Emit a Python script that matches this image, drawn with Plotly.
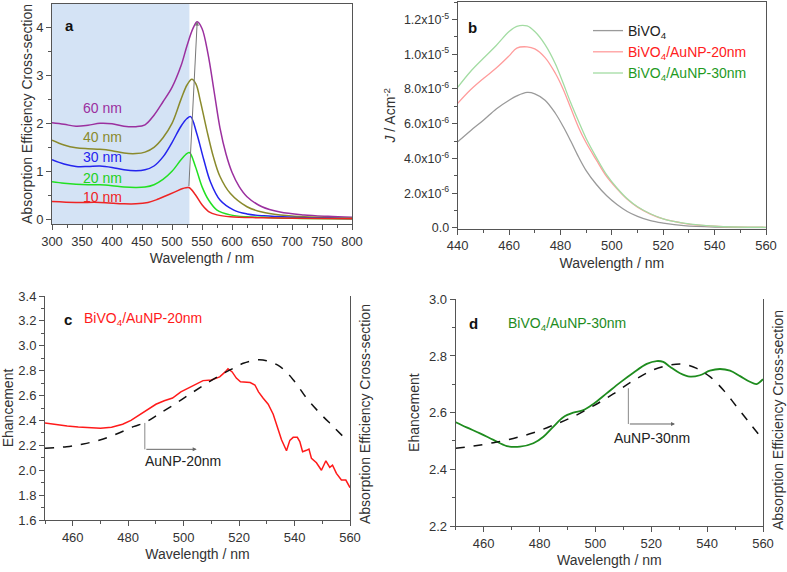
import plotly.graph_objects as go

# =============================================================================
# DATOS
# =============================================================================

# --- (a) absorption efficiency cross-section of AuNP ---
wl_60 = [300, 320, 340, 360, 380, 400, 420, 440, 455, 470, 485, 500, 515, 525, 535, 542, 550, 560,
         570, 580, 590, 600, 612, 625, 650, 680, 720, 760, 800]
ab_60 = [2.01, 1.98, 1.94, 1.96, 2.00, 1.99, 1.94, 1.93, 1.97, 2.17, 2.45, 2.75, 3.20, 3.62, 3.98, 4.12,
         3.98, 3.45, 2.68, 1.90, 1.36, 0.98, 0.68, 0.47, 0.26, 0.15, 0.09, 0.06, 0.04]

wl_40 = [300, 320, 340, 360, 380, 400, 420, 440, 455, 470, 485, 500, 515, 525, 533, 540, 547, 558,
         569, 580, 597, 625, 650, 680, 740, 800]
ab_40 = [1.65, 1.55, 1.49, 1.47, 1.46, 1.43, 1.38, 1.37, 1.40, 1.50, 1.70, 2.00, 2.50, 2.80, 2.92,
         2.82, 2.48, 1.86, 1.30, 0.89, 0.54, 0.26, 0.15, 0.09, 0.04, 0.02]

wl_30 = [300, 320, 340, 360, 380, 400, 420, 440, 455, 470, 485, 500, 515, 525, 531, 541, 553, 564,
         580, 603, 625, 653, 700, 800]
ab_30 = [1.24, 1.15, 1.10, 1.10, 1.11, 1.08, 1.03, 1.01, 1.03, 1.11, 1.30, 1.60, 1.94, 2.10, 2.14,
         1.80, 1.24, 0.78, 0.40, 0.19, 0.11, 0.07, 0.04, 0.01]

wl_20 = [300, 320, 340, 360, 380, 400, 420, 440, 455, 470, 485, 500, 515, 523, 529, 539, 550, 561,
         575, 597, 625, 653, 700, 800]
ab_20 = [0.78, 0.75, 0.73, 0.72, 0.72, 0.70, 0.67, 0.66, 0.67, 0.72, 0.83, 1.00, 1.24, 1.35, 1.39,
         1.10, 0.68, 0.40, 0.19, 0.09, 0.05, 0.04, 0.02, 0.01]

wl_10 = [300, 340, 380, 420, 440, 460, 475, 490, 505, 518, 528, 539, 550, 561, 575, 597, 650, 800]
ab_10 = [0.37, 0.35, 0.35, 0.32, 0.32, 0.35, 0.41, 0.49, 0.57, 0.64, 0.66, 0.51, 0.30, 0.16, 0.09,
         0.05, 0.03, 0.01]

# --- (b) photocurrent spectra (A cm-2) ---
wl_b = [440, 445, 450, 455, 460, 463, 467, 470, 474, 478, 481, 484, 487, 490, 494, 498, 502, 506,
        510, 515, 520, 528, 540, 560]
j_bivo4 = [4.96, 5.60, 6.20, 6.85, 7.35, 7.60, 7.80, 7.72, 7.35, 6.60, 5.85, 5.00, 4.10, 3.30, 2.50,
           1.85, 1.35, 0.95, 0.67, 0.42, 0.28, 0.13, 0.05, 0.02]
j_au20 = [7.17, 7.95, 8.60, 9.20, 9.90, 10.35, 10.42, 10.30, 9.80, 8.90, 8.00, 6.90, 5.80, 4.90,
          3.90, 2.95, 2.25, 1.65, 1.20, 0.80, 0.52, 0.27, 0.10, 0.04]
j_au30 = [8.09, 9.00, 9.76, 10.50, 11.30, 11.60, 11.62, 11.30, 10.55, 9.45, 8.35, 7.20, 6.15, 5.15,
          4.05, 3.05, 2.30, 1.68, 1.22, 0.82, 0.53, 0.28, 0.10, 0.04]
j_bivo4 = [v * 1e-6 for v in j_bivo4]
j_au20 = [v * 1e-6 for v in j_au20]
j_au30 = [v * 1e-6 for v in j_au30]

# --- (c) enhancement BiVO4/AuNP-20nm ---
wl_c = [450, 454, 458, 462, 466, 470, 474, 478, 481, 484, 487, 490, 493, 496, 499, 502, 505, 507,
        510, 513, 515, 516, 517.5, 519, 520.5, 522, 524, 525.7, 527, 528.7, 530.5, 532.3, 533.5,
        535.3, 537.1, 538.3, 539.5, 541, 541.9, 542.9, 544.3, 545.2, 546.1, 547.9, 549.7, 551.3,
        552.7, 553.7, 555.1, 556.9, 558.5, 560]
enh_c = [2.38, 2.365, 2.355, 2.347, 2.34, 2.338, 2.345, 2.37, 2.40, 2.445, 2.49, 2.53, 2.558, 2.58,
         2.63, 2.665, 2.70, 2.72, 2.725, 2.75, 2.79, 2.816, 2.79, 2.74, 2.71, 2.71, 2.705, 2.685,
         2.63, 2.578, 2.53, 2.45, 2.36, 2.245, 2.156, 2.24, 2.264, 2.264, 2.23, 2.148, 2.16, 2.17,
         2.095, 2.06, 2.00, 2.076, 2.023, 2.04, 1.975, 1.921, 1.921, 1.86]
wl_c_abs = [450, 457.8, 463.8, 469.8, 475.8, 481.9, 486, 490.3, 496.3, 502.3, 508.3, 514.3, 517.9,
            521.5, 526.3, 529.9, 534.8, 539.6, 544.4, 549.2, 554, 559.4]
abs_c = [2.176, 2.189, 2.211, 2.243, 2.291, 2.35, 2.382, 2.441, 2.524, 2.612, 2.698, 2.778, 2.819,
         2.859, 2.886, 2.88, 2.832, 2.725, 2.578, 2.457, 2.35, 2.229]

# --- (d) enhancement BiVO4/AuNP-30nm ---
wl_d = [450, 453.9, 458.7, 463.5, 468.3, 473, 477.8, 481.4, 485, 488.5, 492.1, 495.7, 499.3, 504,
        508.8, 513.6, 518.4, 521.9, 524.3, 526.7, 530.3, 533.9, 537.4, 541, 544.6, 548.2, 551.8,
        555.3, 557.7, 560]
enh_d = [2.566, 2.548, 2.527, 2.504, 2.482, 2.48, 2.492, 2.515, 2.551, 2.584, 2.60, 2.609, 2.631,
         2.668, 2.706, 2.741, 2.772, 2.782, 2.779, 2.762, 2.739, 2.727, 2.732, 2.748, 2.754, 2.748,
         2.729, 2.709, 2.701, 2.718]
wl_d_abs = [450, 456.3, 463.5, 470.6, 477.8, 485, 492.1, 499.3, 506.4, 513.6, 520.7, 526.7, 531.5,
            536.3, 541, 545.8, 550.6, 555.3, 560]
abs_d = [2.474, 2.482, 2.494, 2.509, 2.529, 2.556, 2.586, 2.624, 2.666, 2.713, 2.751, 2.768, 2.771,
         2.756, 2.727, 2.68, 2.621, 2.562, 2.504]

# =============================================================================
# ESTILO
# =============================================================================

W, H = 787, 572
FONT = "Arial, Liberation Sans, sans-serif"
AXIS_COLOR = "#555555"
TITLE_FONT = dict(size=14, color="#333333", family=FONT)


def px_x(p):
    return p / W


def px_y(p):
    return 1 - p / H


def axis_style(**kw):
    base = dict(
        showline=True, linecolor=AXIS_COLOR, linewidth=1,
        ticks="outside", ticklen=5, tickcolor=AXIS_COLOR,
        showgrid=False, zeroline=False,
        tickfont=dict(size=13, color="#333333", family=FONT),
        title_font=TITLE_FONT,
        automargin=False,
    )
    base.update(kw)
    return base


fig = go.Figure()

# =============================================================================
# (a)
# =============================================================================

curves_a = [
    (wl_60, ab_60, "#9b309f"),
    (wl_40, ab_40, "#8a8a2c"),
    (wl_30, ab_30, "#2424ee"),
    (wl_20, ab_20, "#22e022"),
    (wl_10, ab_10, "#ee2424"),
]
for x, y, c in curves_a:
    fig.add_trace(go.Scatter(x=x, y=y, mode="lines", line=dict(color=c, width=1.5, shape="spline"),
                             xaxis="x", yaxis="y", showlegend=False))

labels_a = [("60 nm", 2.32, "#9b309f"), ("40 nm", 1.71, "#8a8a2c"), ("30 nm", 1.30, "#2424ee"),
            ("20 nm", 0.86, "#22d022"), ("10 nm", 0.46, "#ee2424")]
for t, yv, c in labels_a:
    fig.add_annotation(x=349, y=yv, xref="x", yref="y", text=t, showarrow=False, xanchor="left",
                       font=dict(size=14, color=c, family=FONT))

# zona sombreada
fig.add_shape(type="rect", xref="x", yref="y domain", x0=300, x1=529, y0=0, y1=1,
              fillcolor="#d4e3f5", line_width=0, layer="below")

# flecha de los picos
fig.add_annotation(x=542, y=4.12, ax=528, ay=0.66, xref="x", yref="y", axref="x", ayref="y",
                   showarrow=True, arrowhead=2, arrowsize=0.8, arrowwidth=1, arrowcolor="#777777", text="")

fig.add_annotation(x=px_x(63), y=px_y(15), xref="paper", yref="paper", text="<b>a</b>",
                   showarrow=False, font=dict(size=15, color="#111111", family=FONT))

# =============================================================================
# (b)
# =============================================================================

series_b = [
    (j_bivo4, "#9a9a9a", "<span style='color:#222222'>BiVO<sub>4</sub></span>"),
    (j_au20, "#ff9c9c", "<span style='color:#ff2020'>BiVO<sub>4</sub>/AuNP-20nm</span>"),
    (j_au30, "#a3dca3", "<span style='color:#1f9a1f'>BiVO<sub>4</sub>/AuNP-30nm</span>"),
]
for y, c, n in series_b:
    fig.add_trace(go.Scatter(x=wl_b, y=y, mode="lines", line=dict(color=c, width=1.3, shape="spline"),
                             name=n, xaxis="x2", yaxis="y2", showlegend=True))

fig.add_annotation(x=px_x(472), y=px_y(17), xref="paper", yref="paper", text="<b>b</b>",
                   showarrow=False, font=dict(size=15, color="#111111", family=FONT))

# =============================================================================
# (c)
# =============================================================================

fig.add_trace(go.Scatter(x=wl_c, y=enh_c, mode="lines", line=dict(color="#ff1a1a", width=1.5),
                         xaxis="x3", yaxis="y3", showlegend=False))
fig.add_trace(go.Scatter(x=wl_c_abs, y=abs_c, mode="lines",
                         line=dict(color="#111111", width=1.5, dash="dash", shape="spline"),
                         xaxis="x3", yaxis="y4", showlegend=False))

fig.add_annotation(x=px_x(62), y=px_y(319), xref="paper", yref="paper", text="<b>c</b>",
                   showarrow=False, font=dict(size=15, color="#111111", family=FONT))
fig.add_annotation(x=px_x(82), y=px_y(319), xref="paper", yref="paper", xanchor="left",
                   text="BiVO<sub>4</sub>/AuNP-20nm", showarrow=False,
                   font=dict(size=14, color="#ff1a1a", family=FONT))
fig.add_shape(type="line", xref="x3", yref="y3", x0=486, x1=486, y0=2.38, y1=2.168,
              line=dict(color="#888888", width=1))
fig.add_annotation(x=504.7, y=2.168, ax=486, ay=2.168, xref="x3", yref="y3", axref="x3", ayref="y3",
                   showarrow=True, arrowhead=2, arrowsize=0.8, arrowwidth=1, arrowcolor="#666666", text="")
fig.add_annotation(x=485.5, y=2.077, xref="x3", yref="y3", xanchor="left", text="AuNP-20nm",
                   showarrow=False, font=dict(size=14, color="#222222", family=FONT))
fig.add_annotation(x=px_x(365), y=px_y(414), xref="paper", yref="paper", textangle=-90,
                   xanchor="center", yanchor="middle",
                   text="Absorption Efficiency Cross-section", showarrow=False, font=TITLE_FONT)

# =============================================================================
# (d)
# =============================================================================

fig.add_trace(go.Scatter(x=wl_d, y=enh_d, mode="lines", line=dict(color="#1e8c1e", width=1.8, shape="spline"),
                         xaxis="x4", yaxis="y5", showlegend=False))
fig.add_trace(go.Scatter(x=wl_d_abs, y=abs_d, mode="lines",
                         line=dict(color="#111111", width=1.5, dash="dash", shape="spline"),
                         xaxis="x4", yaxis="y6", showlegend=False))

fig.add_annotation(x=px_x(473), y=px_y(323), xref="paper", yref="paper", text="<b>d</b>",
                   showarrow=False, font=dict(size=15, color="#111111", family=FONT))
fig.add_annotation(x=px_x(506), y=px_y(324), xref="paper", yref="paper", xanchor="left",
                   text="BiVO<sub>4</sub>/AuNP-30nm", showarrow=False,
                   font=dict(size=14, color="#1e8c1e", family=FONT))
fig.add_shape(type="line", xref="x4", yref="y5", x0=511.8, x1=511.8, y0=2.686, y1=2.56,
              line=dict(color="#888888", width=1))
fig.add_annotation(x=528.5, y=2.56, ax=511.8, ay=2.56, xref="x4", yref="y5", axref="x4", ayref="y5",
                   showarrow=True, arrowhead=2, arrowsize=0.8, arrowwidth=1, arrowcolor="#666666", text="")
fig.add_annotation(x=506, y=2.509, xref="x4", yref="y5", xanchor="left", text="AuNP-30nm",
                   showarrow=False, font=dict(size=14, color="#222222", family=FONT))
fig.add_annotation(x=px_x(778), y=px_y(420), xref="paper", yref="paper", textangle=-90,
                   xanchor="center", yanchor="middle",
                   text="Absorption Efficiency Cross-section", showarrow=False, font=TITLE_FONT)

# =============================================================================
# EJES
# =============================================================================

b_ticks = [0, 2e-6, 4e-6, 6e-6, 8e-6, 1.0e-5, 1.2e-5]
b_text = ["0.0", "2.0x10<sup>-6</sup>", "4.0x10<sup>-6</sup>", "6.0x10<sup>-6</sup>",
          "8.0x10<sup>-6</sup>", "1.0x10<sup>-5</sup>", "1.2x10<sup>-5</sup>"]

fig.update_layout(
    width=W, height=H,
    margin=dict(l=0, r=0, t=0, b=0),
    paper_bgcolor="white", plot_bgcolor="rgba(0,0,0,0)",
    font=dict(family=FONT),
    xaxis=axis_style(domain=[px_x(52), px_x(352)], range=[300, 800], dtick=50, mirror=True,
                     minor=dict(ticks="outside", ticklen=3, dtick=25, tickcolor=AXIS_COLOR),
                     anchor="y", title=dict(text="Wavelength / nm", standoff=5)),
    yaxis=axis_style(domain=[px_y(224), px_y(4)], range=[-0.1, 4.49], dtick=1, mirror=True,
                     minor=dict(ticks="outside", ticklen=3, dtick=0.5, tickcolor=AXIS_COLOR),
                     anchor="x", title=dict(text="Absorption Efficiency Cross-section", standoff=0)),
    xaxis2=axis_style(domain=[px_x(457.7), px_x(766)], range=[440, 560], dtick=20, mirror=True,
                      minor=dict(ticks="outside", ticklen=3, dtick=10, tickcolor=AXIS_COLOR),
                      anchor="y2", title=dict(text="Wavelength / nm", standoff=6)),
    yaxis2=axis_style(domain=[px_y(228.5), px_y(2)], range=[-0.03e-6, 13.0e-6], mirror=True,
                      tickvals=b_ticks, ticktext=b_text, tickfont=dict(size=12.5, color="#333333", family=FONT),
                      minor=dict(ticks="outside", ticklen=3, dtick=1e-6, tick0=0, tickcolor=AXIS_COLOR),
                      anchor="x2", title=dict(text="<i>J</i> / Acm<sup>-2</sup>", standoff=4)),
    xaxis3=axis_style(domain=[px_x(45), px_x(350)], range=[450, 560], dtick=20, tick0=0,
                      minor=dict(ticks="outside", ticklen=3, dtick=10, tickcolor=AXIS_COLOR),
                      anchor="y3", title=dict(text="Wavelength / nm", standoff=5)),
    yaxis3=axis_style(domain=[px_y(520), px_y(296)], range=[1.6, 3.4], dtick=0.2, tickformat=".1f",
                      minor=dict(ticks="outside", ticklen=3, dtick=0.1, tickcolor=AXIS_COLOR),
                      anchor="x3", title=dict(text="Ehancement", standoff=6)),
    yaxis4=axis_style(overlaying="y3", side="right", anchor="x3", range=[1.6, 3.4],
                      showticklabels=False, ticks=""),
    xaxis4=axis_style(domain=[px_x(455.7), px_x(763)], range=[450, 560], dtick=20, tick0=0,
                      minor=dict(ticks="outside", ticklen=3, dtick=10, tickcolor=AXIS_COLOR),
                      anchor="y5", title=dict(text="Wavelength / nm", standoff=5)),
    yaxis5=axis_style(domain=[px_y(526), px_y(299.3)], range=[2.2, 3.0], dtick=0.2, tickformat=".1f",
                      minor=dict(ticks="outside", ticklen=3, dtick=0.1, tickcolor=AXIS_COLOR),
                      anchor="x4", title=dict(text="Ehancement", standoff=6)),
    yaxis6=axis_style(overlaying="y5", side="right", anchor="x4", range=[2.2, 3.0],
                      showticklabels=False, ticks=""),
    legend=dict(x=px_x(588), y=px_y(15), xanchor="left", yanchor="top", bgcolor="rgba(0,0,0,0)",
                font=dict(size=14, family=FONT), itemwidth=30, tracegroupgap=2),
)

# sin margen del body, para que la figura empiece en (0, 0)
fig.write_html("out.html", config={"displayModeBar": False},
               post_script="document.body.style.margin='0px';")
